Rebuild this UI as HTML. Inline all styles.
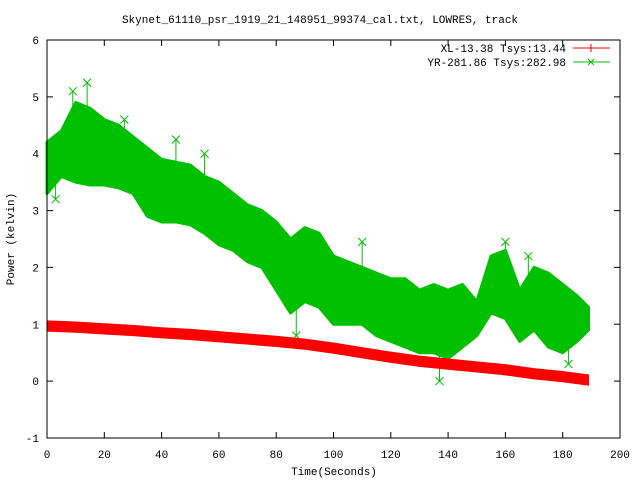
<!DOCTYPE html>
<html><head><meta charset="utf-8"><style>
body{margin:0;background:#fff}
svg{display:block;font-family:"Liberation Mono","DejaVu Sans Mono",monospace;font-size:11px}
</style></head><body>
<svg id="chart" width="640" height="480">
<text x="320" y="23" text-anchor="middle">Skynet_61110_psr_1919_21_148951_99374_cal.txt, LOWRES, track</text>
<text x="334" y="475" text-anchor="middle">Time(Seconds)</text>
<text transform="translate(14,239) rotate(-90)" text-anchor="middle">Power (kelvin)</text>
<g id="ticks"></g>
<g id="series"></g>
<rect x="47" y="40" width="573" height="398" fill="none" stroke="#000"/>
<g>
<text x="566" y="52" text-anchor="end">XL-13.38 Tsys:13.44</text>
<line x1="573" y1="48" x2="610" y2="48" stroke="#f00"/>
<path d="M591 44V52M587 48H595" stroke="#f00"/>
<text x="566" y="66" text-anchor="end">YR-281.86 Tsys:282.98</text>
<line x1="573" y1="62" x2="610" y2="62" stroke="#00c000"/>
<path d="M588 59L594 65M588 65L594 59" stroke="#00c000"/>
</g>
</svg>
<script>
const xTicks=[0,20,40,60,80,100,120,140,160,180,200];
const yTicks=[-1,0,1,2,3,4,5,6];
const yrTimes=[0,5,10,15,20,25,30,35,40,45,50,55,60,65,70,75,80,85,90,95,100,105,110,115,120,125,130,135,140,145,150,155,160,165,170,175,180,185,189];
const yrUpper=[4.2,4.4,4.9,4.8,4.6,4.5,4.3,4.1,3.9,3.85,3.8,3.6,3.5,3.3,3.1,3.0,2.8,2.5,2.7,2.6,2.2,2.1,2.0,1.9,1.8,1.8,1.6,1.7,1.6,1.7,1.4,2.2,2.3,1.6,2.0,1.9,1.7,1.5,1.3];
const yrLower=[3.3,3.6,3.5,3.45,3.45,3.4,3.3,2.9,2.8,2.8,2.75,2.6,2.4,2.3,2.1,2.0,1.6,1.2,1.4,1.3,1.0,1.0,1.0,0.8,0.7,0.6,0.5,0.5,0.4,0.6,0.8,1.2,1.1,0.7,0.9,0.6,0.5,0.7,0.9];
const spikeTimes=[3,9,14,27,45,55,87,110,137,160,168,182];
const spikeValues=[3.2,5.1,5.25,4.6,4.25,4.0,0.8,2.45,0.0,2.45,2.2,0.3];
const xlTimes=[0,10,20,30,40,50,60,70,80,90,100,110,120,130,140,150,160,170,180,189];
const xlValues=[0.97,0.95,0.92,0.89,0.85,0.82,0.78,0.74,0.70,0.65,0.58,0.50,0.42,0.35,0.30,0.25,0.20,0.13,0.08,0.02];
const X=t=>47+t*573/200, Y=v=>438-(v+1)*398/7;
const NS='http://www.w3.org/2000/svg';
function mk(tag,attrs,parent){const e=document.createElementNS(NS,tag);for(const k in attrs)e.setAttribute(k,attrs[k]);parent.appendChild(e);return e;}
const tg=document.getElementById('ticks'), sg=document.getElementById('series');
xTicks.forEach(t=>{
 const l=mk('path',{d:`M${X(t)} 438v-6M${X(t)} 40v6`,stroke:'#000'},tg);
 
 
 const tx=mk('text',{x:X(t),y:458,'text-anchor':'middle'},tg);tx.textContent=t;
 
 
});
yTicks.forEach(v=>{
 const l=mk('path',{d:`M47 ${Y(v)}h6M620 ${Y(v)}h-6`,stroke:'#000'},tg);
 
 
 const tx=mk('text',{x:39,y:Y(v)+4,'text-anchor':'end'},tg);tx.textContent=v;
 
 
});
// YR band
let pts=yrTimes.map((t,i)=>X(t)+','+Y(yrUpper[i]));
pts=pts.concat(yrTimes.map((t,i)=>X(t)+','+Y(yrLower[i])).reverse());
const band=mk('polygon',{points:pts.join(' '),fill:'#00c000',stroke:'#00c000','stroke-width':3,'stroke-linejoin':'round'},sg);


spikeTimes.forEach((t,i)=>{
 const x=X(t),y=Y(spikeValues[i]);
 const near=yrTimes.reduce((b,tt,j)=>Math.abs(tt-t)<Math.abs(yrTimes[b]-t)?j:b,0);
 const m=(yrUpper[near]+yrLower[near])/2;
 const s=mk('path',{d:`M${x} ${Y(m)}V${y}M${x-4} ${y-4}l8 8M${x-4} ${y+4}l8 -8`,stroke:'#00c000',fill:'none'},sg);
 
 
});
// XL band
let rp=xlTimes.map((t,i)=>X(t)+','+Y(xlValues[i]+0.09));
rp=rp.concat(xlTimes.map((t,i)=>X(t)+','+Y(xlValues[i]-0.09)).reverse());
const red=mk('polygon',{points:rp.join(' '),fill:'#f00',stroke:'#f00'},sg);


</script>
</body></html>
